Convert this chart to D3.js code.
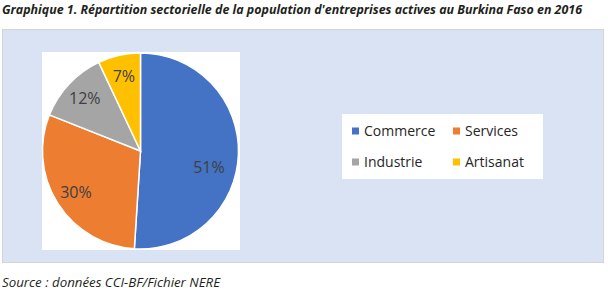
<!DOCTYPE html>
<html>
<head>
<meta charset="utf-8">
<script src="https://cdn.jsdelivr.net/npm/d3@7"></script>
<style>
  body { margin: 0; background: #fff; }
  svg { display: block; }
</style>
</head>
<body>
<script>
// data
const categories = ['Commerce', 'Services', 'Industrie', 'Artisanat']
const values = [51, 30, 12, 7]
const colors = ['#4472C4', '#ED7D31', '#A5A5A5', '#FFC000']

const title = "Graphique 1. Répartition sectorielle de la population d'entreprises actives au Burkina Faso en 2016"
const source = 'Source : données CCI-BF/Fichier NERE'

const width = 608
const height = 292

const svg = d3.select('body').append('svg')
  .attr('width', width).attr('height', height)

// title
svg.append('text')
  .attr('x', 2).attr('y', 14)
  .attr('font-family', 'Open Sans, sans-serif')
  .attr('font-size', 12.5)
  .attr('font-weight', 'bold')
  .attr('font-style', 'italic')
  .attr('fill', '#231f20')
  .attr('textLength', 580)
  .attr('lengthAdjust', 'spacingAndGlyphs')
  .text(title)

// light blue chart area
svg.append('rect')
  .attr('x', 2.5).attr('y', 29.5)
  .attr('width', 601).attr('height', 233)
  .attr('fill', '#DAE3F3')
  .attr('stroke', '#d4d4d4')

// white plot area behind the pie
svg.append('rect')
  .attr('x', 42).attr('y', 52)
  .attr('width', 198).attr('height', 198)
  .attr('fill', '#fff')

const cx = 140.5, cy = 151, r = 98

const pie = d3.pie().sort(null).value(d => d.value)
const arcs = pie(categories.map((c, i) => ({ name: c, value: values[i], color: colors[i] })))

const arc = d3.arc().innerRadius(0).outerRadius(r)
const labelArc = d3.arc().innerRadius(r * 0.78).outerRadius(r * 0.78)

const g = svg.append('g').attr('transform', `translate(${cx},${cy})`)

g.selectAll('path')
  .data(arcs)
  .enter()
  .append('path')
  .attr('d', arc)
  .attr('fill', d => d.data.color)
  .attr('stroke', '#fff')
  .attr('stroke-width', 1.5)

// percentage labels (excel nudges the big one down a little)
g.selectAll('.lbl')
  .data(arcs)
  .enter()
  .append('text')
  .attr('class', 'lbl')
  .attr('transform', d => {
    const [x, y] = labelArc.centroid(d)
    return d.index === 0 ? `translate(${x - 8},${y + 14})` : `translate(${x},${y})`
  })
  .attr('text-anchor', 'middle')
  .attr('dy', '0.35em')
  .attr('font-family', 'Open Sans, sans-serif')
  .attr('font-size', 16)
  .attr('fill', '#404040')
  .text(d => d.data.value + '%')

// legend
svg.append('rect')
  .attr('x', 342).attr('y', 114)
  .attr('width', 201).attr('height', 65)
  .attr('fill', '#fff')

const legendX = [352, 453]
const legendY = [131, 162]

const item = svg.selectAll('.leg')
  .data(arcs)
  .enter()
  .append('g')
  .attr('class', 'leg')
  .attr('transform', (d, i) => `translate(${legendX[i % 2]},${legendY[Math.floor(i / 2)]})`)

item.append('rect')
  .attr('x', 0).attr('y', -3.5)
  .attr('width', 7).attr('height', 7)
  .attr('fill', d => d.data.color)

item.append('text')
  .attr('x', 12)
  .attr('dy', '0.35em')
  .attr('font-family', 'Open Sans, sans-serif')
  .attr('font-size', 14)
  .attr('fill', '#262626')
  .text(d => d.data.name)

// source note
svg.append('text')
  .attr('x', 2).attr('y', 287)
  .attr('font-family', 'Open Sans, sans-serif')
  .attr('font-size', 12.5)
  .attr('font-style', 'italic')
  .attr('fill', '#231f20')
  .attr('textLength', 218)
  .attr('lengthAdjust', 'spacingAndGlyphs')
  .text(source)
</script>
</body>
</html>
